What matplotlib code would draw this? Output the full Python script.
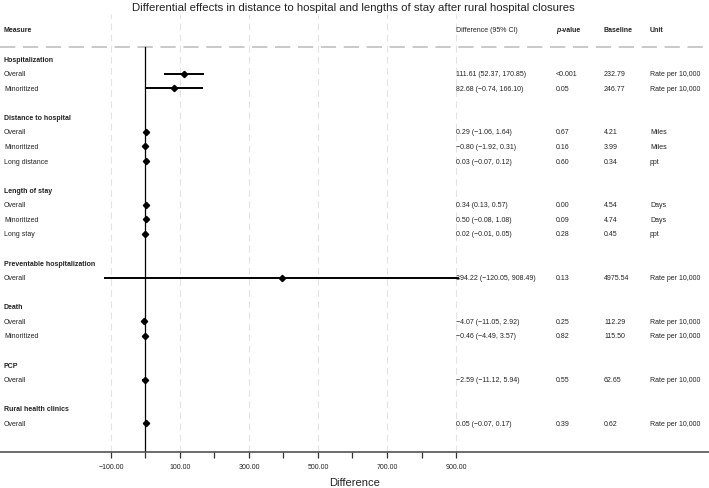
import matplotlib.pyplot as plt
import matplotlib.transforms as mtransforms
import numpy as np

plt.rcParams["font.family"] = ["Liberation Sans", "DejaVu Sans"]

# groups and sub rows
group_names = ["Hospitalization", "Distance to hospital", "Length of stay",
               "Preventable hospitalization", "Death", "PCP", "Rural health clinics"]
group_sizes = [2, 3, 3, 1, 2, 1, 1]
sub_labels = ["Overall", "Minoritized",
              "Overall", "Minoritized", "Long distance",
              "Overall", "Minoritized", "Long stay",
              "Overall",
              "Overall", "Minoritized",
              "Overall",
              "Overall"]
estimates = [111.61, 82.68, 0.29, -0.80, 0.03, 0.34, 0.50, 0.02, 394.22, -4.07, -0.46, -2.59, 0.05]
ci_low = [52.37, -0.74, -1.06, -1.92, -0.07, 0.13, -0.08, -0.01, -120.05, -11.05, -4.49, -11.12, -0.07]
ci_high = [170.85, 166.10, 1.64, 0.31, 0.12, 0.57, 1.08, 0.05, 908.49, 2.92, 3.57, 5.94, 0.17]
p_values = ["<0.001", "0.05", "0.67", "0.16", "0.60", "0.00", "0.09", "0.28", "0.13", "0.25", "0.82", "0.55", "0.39"]
baselines = ["232.79", "246.77", "4.21", "3.99", "0.34", "4.54", "4.74", "0.45", "4975.54",
             "112.29", "115.50", "62.65", "0.62"]
units = ["Rate per 10,000", "Rate per 10,000", "Miles", "Miles", "ppt", "Days", "Days", "ppt",
         "Rate per 10,000", "Rate per 10,000", "Rate per 10,000", "Rate per 10,000", "Rate per 10,000"]
tick_values = list(range(-100, 1000, 100))


def fmt(v):
    return f"{v:.2f}".replace("-", "\u2212")


# row positions (header row, sub rows, one blank row after each group)
header_rows = []
sub_rows = []
r = 0
for n in group_sizes:
    header_rows.append(r)
    sub_rows.extend(range(r + 1, r + 1 + n))
    r += n + 2
sub_rows = np.array(sub_rows)
est = np.array(estimates)
lo = np.array(ci_low)
hi = np.array(ci_high)

W, H = 709, 489
fig = plt.figure(figsize=(W / 100, H / 100), dpi=100)
ax_bottom, ax_top = 453.3, 15
ax = fig.add_axes([0, 1 - ax_bottom / H, 1, (ax_bottom - ax_top) / H])
ax.set_xlim(-421.7, 1633.3)
ax.set_ylim(26.98, -3.09)

for s in ["top", "left", "right"]:
    ax.spines[s].set_visible(False)
ax.spines["bottom"].set_color("#444444")
ax.spines["bottom"].set_linewidth(1.1)

ax.set_xticks(tick_values)
ax.set_xticklabels([fmt(t) if (t // 100) % 2 != 0 else "" for t in tick_values])
ax.tick_params(axis="x", length=4.5, width=0.9, color="#333333",
               labelsize=5, labelcolor="#222222", pad=3.5)
ax.set_yticks([])

# light vertical gridlines on labelled ticks
for t in tick_values:
    if (t // 100) % 2 != 0:
        ax.axvline(t, color="#E3E3E3", lw=0.8, dashes=(6, 4), zorder=0)

# header separator
sep_y = -0.82
ax.axhline(sep_y, color="#BBBBBB", lw=1.1, dashes=(10, 5), zorder=1)

# zero line
ax.plot([0, 0], [sep_y, 26.98], color="black", lw=0.9, zorder=2)

# estimates with confidence intervals
ax.errorbar(est, sub_rows, xerr=[est - lo, hi - est], fmt="D", color="black",
            ms=3.2, elinewidth=1.4, capsize=0, zorder=3)

trans = mtransforms.blended_transform_factory(fig.transFigure, ax.transData)
fs = 5
tc = "#222222"
col_measure = 4 / W
col_diff = 456 / W
col_p = 556 / W
col_base = 604 / W
col_unit = 650 / W

# column headers
ax.text(col_measure, -2, "Measure", transform=trans, fontsize=fs, fontweight="bold", color=tc, va="center")
ax.text(col_diff, -2, "Difference (95% CI)", transform=trans, fontsize=fs, color=tc, va="center")
p_txt = ax.text(col_p, -2, "p", transform=trans, fontsize=fs, fontweight="bold",
                style="italic", color=tc, va="center")
ax.annotate("-value", xy=(1, 0), xycoords=p_txt, xytext=(0.2, 0), textcoords="offset points",
            fontsize=fs, fontweight="bold", color=tc, va="bottom", ha="left")
ax.text(col_base, -2, "Baseline", transform=trans, fontsize=fs, fontweight="bold", color=tc, va="center")
ax.text(col_unit, -2, "Unit", transform=trans, fontsize=fs, fontweight="bold", color=tc, va="center")

for name, row in zip(group_names, header_rows):
    ax.text(col_measure, row, name, transform=trans, fontsize=fs, fontweight="bold", color=tc, va="center")

for i, row in enumerate(sub_rows):
    ax.text(col_measure, row, sub_labels[i], transform=trans, fontsize=fs, color=tc, va="center")
    diff_str = f"{fmt(estimates[i])} ({fmt(ci_low[i])}, {fmt(ci_high[i])})"
    ax.text(col_diff, row, diff_str, transform=trans, fontsize=fs, color=tc, va="center")
    ax.text(col_p, row, p_values[i], transform=trans, fontsize=fs, color=tc, va="center")
    ax.text(col_base, row, baselines[i], transform=trans, fontsize=fs, color=tc, va="center")
    ax.text(col_unit, row, units[i], transform=trans, fontsize=fs, color=tc, va="center")

fig.text(353.6 / W, 1 - 8 / H,
         "Differential effects in distance to hospital and lengths of stay after rural hospital closures",
         ha="center", va="center", fontsize=8.2, color="#222222")
fig.text(354.5 / W, 1 - 483 / H, "Difference", ha="center", va="center", fontsize=8, color="#222222")

fig.savefig("out.png", dpi=100)
